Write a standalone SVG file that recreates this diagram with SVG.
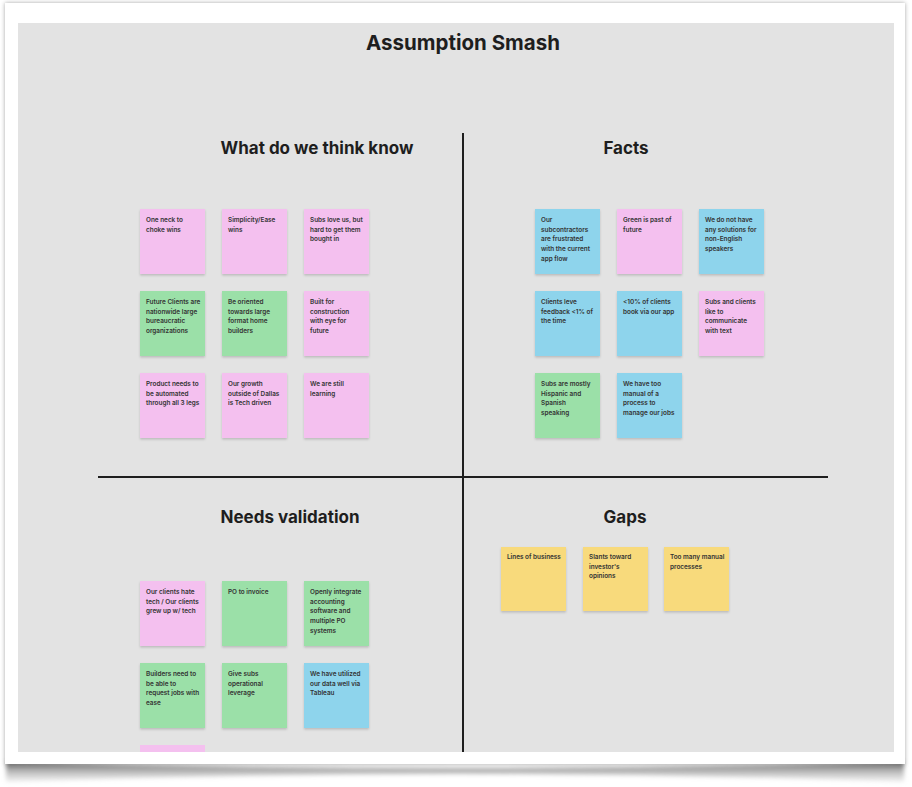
<svg xmlns="http://www.w3.org/2000/svg" width="912" height="787" viewBox="0 0 912 787">
<defs>
<filter id="ns" x="-10%" y="-10%" width="130%" height="130%">
<feDropShadow dx="0" dy="1.5" stdDeviation="1.2" flood-color="#000" flood-opacity="0.18"/>
</filter>
<filter id="cs" x="-5%" y="-5%" width="110%" height="110%">
<feDropShadow dx="0" dy="0" stdDeviation="2" flood-color="#000" flood-opacity="0.35"/>
</filter>
<filter id="bl" x="-5%" y="-50%" width="110%" height="200%">
<feGaussianBlur stdDeviation="2"/>
</filter>
<linearGradient id="bsh" x1="0" y1="0" x2="0" y2="1">
<stop offset="0" stop-color="#666" stop-opacity="1"/>
<stop offset="1" stop-color="#bbb" stop-opacity="0.2"/>
</linearGradient>
<style>
.n{filter:url(#ns)}
.pk{fill:#F4C0EF}
.gr{fill:#9BE0A8}
.bl{fill:#8ED4EC}
.ye{fill:#F8DA7C}
.t{font-family:Inter,"Liberation Sans",sans-serif;font-size:6.4px;font-weight:600;fill:#333}
.h{font-family:Inter,"Liberation Sans",sans-serif;font-size:17px;font-weight:700;fill:#1e1e1e;text-anchor:middle}
.ttl{font-family:Inter,"Liberation Sans",sans-serif;font-size:20.5px;font-weight:700;fill:#1e1e1e;text-anchor:middle}
.ln{stroke:#1e1e1e;stroke-width:2;fill:none}
</style>
</defs>
<rect width="912" height="787" fill="#fff"/>
<path d="M6,762 Q456,774 904,762 L904,782 Q456,766 6,782 Z" fill="url(#bsh)" filter="url(#bl)"/>
<rect x="5" y="3" width="900" height="761" fill="#fff" filter="url(#cs)"/>
<rect x="18" y="23" width="876" height="729" fill="#E3E3E3"/>
<text class="ttl" x="463" y="50">Assumption Smash</text>
<g id="connectors">
<line class="ln" x1="463" y1="133" x2="463" y2="752"/>
<line class="ln" x1="98" y1="477" x2="828" y2="477"/>
</g>
<g id="headings">
<text class="h" x="317" y="154">What do we think know</text>
<text class="h" x="626" y="154">Facts</text>
<text class="h" x="290" y="523">Needs validation</text>
<text class="h" x="625" y="523">Gaps</text>
</g>
<g id="n1"><rect class="n pk" x="140" y="209" width="65" height="65"/><text class="t" x="146" y="222">One neck to<tspan x="146" dy="9.7">choke wins</tspan></text></g>
<g id="n2"><rect class="n pk" x="222" y="209" width="65" height="65"/><text class="t" x="228" y="222">Simplicity/Ease<tspan x="228" dy="9.7">wins</tspan></text></g>
<g id="n3"><rect class="n pk" x="304" y="209" width="65" height="65"/><text class="t" x="310" y="222">Subs love us, but<tspan x="310" dy="9.7">hard to get them</tspan><tspan x="310" dy="9.7">bought in</tspan></text></g>
<g id="n4"><rect class="n gr" x="140" y="291" width="65" height="65"/><text class="t" x="146" y="304">Future Clients are<tspan x="146" dy="9.7">nationwide large</tspan><tspan x="146" dy="9.7">bureaucratic</tspan><tspan x="146" dy="9.7">organizations</tspan></text></g>
<g id="n5"><rect class="n gr" x="222" y="291" width="65" height="65"/><text class="t" x="228" y="304">Be oriented<tspan x="228" dy="9.7">towards large</tspan><tspan x="228" dy="9.7">format home</tspan><tspan x="228" dy="9.7">builders</tspan></text></g>
<g id="n6"><rect class="n pk" x="304" y="291" width="65" height="65"/><text class="t" x="310" y="304">Built for<tspan x="310" dy="9.7">construction</tspan><tspan x="310" dy="9.7">with eye for</tspan><tspan x="310" dy="9.7">future</tspan></text></g>
<g id="n7"><rect class="n pk" x="140" y="373" width="65" height="65"/><text class="t" x="146" y="386">Product needs to<tspan x="146" dy="9.7">be automated</tspan><tspan x="146" dy="9.7">through all 3 legs</tspan></text></g>
<g id="n8"><rect class="n pk" x="222" y="373" width="65" height="65"/><text class="t" x="228" y="386">Our growth<tspan x="228" dy="9.7">outside of Dallas</tspan><tspan x="228" dy="9.7">is Tech driven</tspan></text></g>
<g id="n9"><rect class="n pk" x="304" y="373" width="65" height="65"/><text class="t" x="310" y="386">We are still<tspan x="310" dy="9.7">learning</tspan></text></g>
<g id="f1"><rect class="n bl" x="535" y="209" width="65" height="65"/><text class="t" x="541" y="222">Our<tspan x="541" dy="9.7">subcontractors</tspan><tspan x="541" dy="9.7">are frustrated</tspan><tspan x="541" dy="9.7">with the current</tspan><tspan x="541" dy="9.7">app flow</tspan></text></g>
<g id="f2"><rect class="n pk" x="617" y="209" width="65" height="65"/><text class="t" x="623" y="222">Green is past of<tspan x="623" dy="9.7">future</tspan></text></g>
<g id="f3"><rect class="n bl" x="699" y="209" width="65" height="65"/><text class="t" x="705" y="222">We do not have<tspan x="705" dy="9.7">any solutions for</tspan><tspan x="705" dy="9.7">non-English</tspan><tspan x="705" dy="9.7">speakers</tspan></text></g>
<g id="f4"><rect class="n bl" x="535" y="291" width="65" height="65"/><text class="t" x="541" y="304">Clients leve<tspan x="541" dy="9.7">feedback &lt;1% of</tspan><tspan x="541" dy="9.7">the time</tspan></text></g>
<g id="f5"><rect class="n bl" x="617" y="291" width="65" height="65"/><text class="t" x="623" y="304">&lt;10% of clients<tspan x="623" dy="9.7">book via our app</tspan></text></g>
<g id="f6"><rect class="n pk" x="699" y="291" width="65" height="65"/><text class="t" x="705" y="304">Subs and clients<tspan x="705" dy="9.7">like to</tspan><tspan x="705" dy="9.7">communicate</tspan><tspan x="705" dy="9.7">with text</tspan></text></g>
<g id="f7"><rect class="n gr" x="535" y="373" width="65" height="65"/><text class="t" x="541" y="386">Subs are mostly<tspan x="541" dy="9.7">Hispanic and</tspan><tspan x="541" dy="9.7">Spanish</tspan><tspan x="541" dy="9.7">speaking</tspan></text></g>
<g id="f8"><rect class="n bl" x="617" y="373" width="65" height="65"/><text class="t" x="623" y="386">We have too<tspan x="623" dy="9.7">manual of a</tspan><tspan x="623" dy="9.7">process to</tspan><tspan x="623" dy="9.7">manage our jobs</tspan></text></g>
<g id="v1"><rect class="n pk" x="140" y="581" width="65" height="65"/><text class="t" x="146" y="594">Our clients hate<tspan x="146" dy="9.7">tech / Our clients</tspan><tspan x="146" dy="9.7">grew up w/ tech</tspan></text></g>
<g id="v2"><rect class="n gr" x="222" y="581" width="65" height="65"/><text class="t" x="228" y="594">PO to invoice</text></g>
<g id="v3"><rect class="n gr" x="304" y="581" width="65" height="65"/><text class="t" x="310" y="594">Openly integrate<tspan x="310" dy="9.7">accounting</tspan><tspan x="310" dy="9.7">software and</tspan><tspan x="310" dy="9.7">multiple PO</tspan><tspan x="310" dy="9.7">systems</tspan></text></g>
<g id="v4"><rect class="n gr" x="140" y="663" width="65" height="65"/><text class="t" x="146" y="676">Builders need to<tspan x="146" dy="9.7">be able to</tspan><tspan x="146" dy="9.7">request jobs with</tspan><tspan x="146" dy="9.7">ease</tspan></text></g>
<g id="v5"><rect class="n gr" x="222" y="663" width="65" height="65"/><text class="t" x="228" y="676">Give subs<tspan x="228" dy="9.7">operational</tspan><tspan x="228" dy="9.7">leverage</tspan></text></g>
<g id="v6"><rect class="n bl" x="304" y="663" width="65" height="65"/><text class="t" x="310" y="676">We have utilized<tspan x="310" dy="9.7">our data well via</tspan><tspan x="310" dy="9.7">Tableau</tspan></text></g>
<g id="v7"><rect class="pk" x="140" y="745" width="65" height="7"/></g>
<g id="g1"><rect class="n ye" x="501" y="547" width="65" height="64"/><text class="t" x="507" y="559">Lines of business</text></g>
<g id="g2"><rect class="n ye" x="583" y="547" width="65" height="64"/><text class="t" x="589" y="559">Slants toward<tspan x="589" dy="9.7">investor's</tspan><tspan x="589" dy="9.7">opinions</tspan></text></g>
<g id="g3"><rect class="n ye" x="664" y="547" width="65" height="64"/><text class="t" x="670" y="559">Too many manual<tspan x="670" dy="9.7">processes</tspan></text></g>
</svg>
